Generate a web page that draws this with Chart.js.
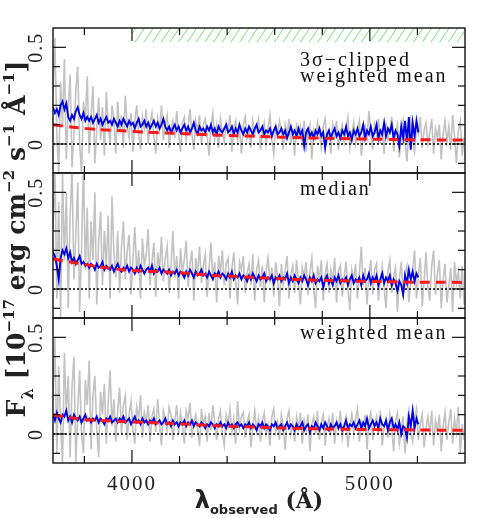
<!DOCTYPE html>
<html lang="en">
<head>
    <meta charset="UTF-8">
    <title>Stacked spectra - clipped mean, median, weighted mean</title>
    <script src="https://cdn.jsdelivr.net/npm/chart.js"></script>
    <style>
        body { margin: 0; background: #fff; }
        #wrap { position: relative; width: 491px; height: 518px; }
        #wrap canvas { position: absolute; left: 0; top: 0; }
    </style>
</head>
<body>
    <div id="wrap">
        <canvas id="panel0" width="491" height="518"></canvas>
        <canvas id="panel1" width="491" height="518"></canvas>
        <canvas id="panel2" width="491" height="518"></canvas>
    </div>

    <script>
        // axis ranges
        const LAMBDA_MIN = 3668, LAMBDA_MAX = 5400;
        const FLUX_MIN = -0.15, FLUX_MAX = 0.6;

        // wavelength grids (start, step in Angstrom)
        const GREY_START = 3668, GREY_STEP = 8;
        const BLUE_START = 3668, BLUE_STEP = 8;
        const MODEL_START = 3668, MODEL_STEP = 96;

        const X_TICKS = [3800, 4000, 4200, 4400, 4600, 4800, 5000, 5200];
        const X_LABELS = [4000, 5000];
        const Y_TICKS = [-0.1, 0, 0.1, 0.2, 0.3, 0.4, 0.5];
        const Y_LABELS = [0, 0.5];

        const HATCH_FROM = 4000, HATCH_LEVEL = 0.525;

        const panelLabels = [['3σ−clipped', 'weighted mean'], ['median'], ['weighted mean']];

        // full-resolution stacks (grey), 3668..5396
        const clippedGrey = [
            0.25, 0.55, 0.05, -0.15, 0.32, 0.1, 0.44, -0.08, 0.18, 0.36,
            -0.12, 0.05, 0.28, 0.4, 0.0, -0.15, 0.22, 0.12, 0.35, -0.05,
            0.15, 0.3, -0.1, 0.08, 0.24, 0.02, 0.19, -0.06, 0.27, 0.1,
            0.0, 0.2, 0.13, -0.05, 0.22, 0.06, 0.15, -0.02, 0.25, 0.09,
            0.03, 0.16, -0.04, 0.12, 0.2, 0.05, -0.03, 0.14, 0.08, 0.18,
            0.0, 0.11, 0.16, 0.04, -0.05, 0.13, 0.07, 0.2, 0.02, 0.1,
            0.15, -0.02, 0.08, 0.12, 0.03, 0.17, 0.06, -0.04, 0.11, 0.14,
            0.02, 0.09, 0.18, 0.05, -0.03, 0.12, 0.07, 0.15, 0.0, 0.1,
            0.13, 0.04, -0.06, 0.09, 0.16, 0.03, 0.1, -0.02, 0.13, 0.06,
            0.01, 0.11, 0.07, 0.15, -0.04, 0.08, 0.12, 0.02, 0.09, -0.05,
            0.1, 0.14, 0.03, 0.07, -0.02, 0.12, 0.05, 0.09, 0.13, -0.03,
            0.06, 0.11, 0.0, 0.08, 0.15, 0.02, -0.05, 0.09, 0.04, 0.12,
            0.07, -0.03, 0.1, 0.05, 0.13, 0.0, 0.08, -0.06, 0.11, 0.04,
            0.09, 0.01, 0.12, -0.04, 0.06, 0.1, -0.08, 0.07, 0.03, 0.11,
            0.05, -0.02, 0.09, 0.13, 0.02, 0.07, -0.05, 0.1, 0.04, 0.12,
            -0.03, 0.06, 0.1, 0.01, 0.08, 0.14, -0.02, 0.05, 0.11, 0.0,
            0.07, 0.12, -0.06, 0.04, 0.09, 0.03, 0.17, 0.06, -0.03, 0.1,
            0.05, 0.13, 0.0, 0.08, -0.05, 0.11, 0.03, 0.07, 0.14, -0.04,
            0.06, 0.1, -0.07, 0.04, 0.12, 0.01, -0.09, 0.08, 0.13, 0.02,
            -0.04, 0.09, 0.05, 0.14, -0.02, 0.07, 0.11, 0.0, 0.06, 0.13,
            -0.05, 0.08, 0.03, 0.1, -0.08, 0.05, 0.12, 0.01, 0.09, -0.03,
            0.15, 0.04, -0.1, 0.07, 0.12, -0.06, 0.03
        ];
        const medianGrey = [
            0.3, 0.65, -0.05, 0.45, -0.15, 0.6, 0.15, 0.5, -0.1, 0.38,
            0.62, 0.05, 0.28, 0.55, -0.12, 0.2, 0.65, 0.1, 0.42, -0.05,
            0.35, 0.15, 0.5, -0.08, 0.25, 0.4, 0.02, 0.3, 0.12, 0.38,
            -0.05, 0.48, 0.18, 0.06, 0.3, -0.02, 0.22, 0.35, 0.05, 0.2,
            0.28, -0.03, 0.15, 0.32, 0.08, 0.2, -0.05, 0.26, 0.12, 0.18,
            0.31, 0.02, 0.14, 0.24, -0.04, 0.19, 0.1, 0.27, 0.04, 0.16,
            0.22, -0.02, 0.12, 0.3, 0.06, 0.17, -0.05, 0.21, 0.09, 0.15,
            0.25, 0.01, 0.13, 0.2, -0.06, 0.16, 0.08, 0.22, 0.03, 0.12,
            0.18, -0.04, 0.1, 0.24, 0.05, 0.14, -0.07, 0.17, 0.08, 0.2,
            0.02, 0.13, 0.16, -0.05, 0.11, 0.19, 0.04, -0.08, 0.14, 0.1,
            0.17, -0.02, 0.08, 0.13, 0.02, 0.18, -0.06, 0.1, 0.15, 0.01,
            0.12, -0.07, 0.09, 0.16, 0.03, 0.11, -0.04, 0.14, 0.06, -0.09,
            0.13, 0.02, 0.1, 0.17, -0.05, 0.08, 0.12, -0.02, 0.15, 0.04,
            -0.08, 0.11, 0.06, 0.14, -0.03, 0.09, 0.16, 0.0, -0.1, 0.12,
            0.05, 0.15, -0.06, 0.08, 0.13, -0.02, 0.1, 0.04, 0.16, -0.07,
            0.09, 0.12, -0.04, 0.06, 0.14, 0.0, -0.11, 0.1, 0.05, 0.13,
            -0.05, 0.08, 0.22, 0.02, 0.11, -0.08, 0.07, 0.15, -0.03, 0.1,
            0.13, -0.06, 0.04, 0.12, 0.01, -0.1, 0.09, 0.15, -0.02, 0.06,
            0.11, -0.12, 0.05, 0.14, -0.04, 0.08, 0.12, -0.07, 0.03, 0.1,
            0.2, -0.05, 0.07, 0.16, -0.09, 0.04, 0.19, 0.01, -0.06, 0.12,
            0.2, -0.03, 0.08, 0.15, -0.1, 0.05, 0.13, -0.07, 0.02, 0.11,
            -0.12, 0.14, 0.03, 0.09, -0.05, 0.12, -0.08
        ];
        const weightedGrey = [
            0.2, 0.5, -0.1, 0.35, 0.05, -0.15, 0.42, 0.1, 0.3, -0.12,
            0.25, 0.4, -0.15, 0.12, 0.33, 0.0, -0.1, 0.28, 0.15, 0.38,
            -0.08, 0.2, 0.3, 0.02, -0.12, 0.22, 0.1, 0.26, -0.05, 0.16,
            0.33, 0.04, 0.18, -0.04, 0.12, 0.24, 0.0, 0.15, 0.2, -0.03,
            0.1, 0.17, 0.02, -0.05, 0.14, 0.08, 0.2, -0.02, 0.11, 0.06,
            0.15, -0.04, 0.09, 0.13, 0.01, 0.18, 0.05, -0.06, 0.12, 0.08,
            0.02, 0.14, 0.1, -0.03, 0.07, 0.15, 0.0, 0.11, 0.05, -0.05,
            0.12, 0.08, 0.16, -0.02, 0.06, 0.1, 0.03, -0.06, 0.13, 0.05,
            0.09, -0.04, 0.11, 0.02, 0.15, 0.06, -0.03, 0.08, 0.12, 0.0,
            -0.06, 0.1, 0.05, 0.13, 0.01, 0.08, -0.05, 0.17, 0.03, 0.09,
            0.11, -0.02, 0.06, 0.1, -0.07, 0.04, 0.12, 0.02, 0.08, -0.04,
            0.07, 0.11, 0.0, 0.05, -0.06, 0.09, 0.13, 0.01, 0.06, -0.03,
            0.1, 0.04, -0.08, 0.08, 0.12, 0.0, 0.06, -0.04, 0.09, 0.03,
            0.11, -0.05, 0.07, 0.02, 0.1, -0.09, 0.05, 0.09, 0.0, 0.12,
            -0.03, 0.06, 0.1, -0.06, 0.04, 0.08, 0.01, 0.11, -0.05, 0.07,
            0.03, 0.12, -0.02, 0.05, 0.09, -0.07, 0.04, 0.1, 0.0, 0.08,
            0.13, -0.04, 0.06, 0.02, 0.1, -0.08, 0.07, 0.11, -0.03, 0.05,
            0.09, 0.0, 0.12, -0.06, 0.04, 0.08, -0.02, 0.1, 0.03, -0.09,
            0.07, 0.11, -0.05, 0.02, 0.09, -0.1, 0.06, 0.12, 0.0, -0.04,
            0.08, 0.13, -0.03, 0.05, 0.1, -0.07, 0.03, 0.09, 0.0, 0.12,
            -0.06, 0.07, 0.02, 0.1, -0.09, 0.04, 0.11, -0.03, 0.06, 0.13,
            -0.05, 0.08, 0.01, 0.14, -0.1, 0.05, -0.03
        ];

        // binned stacks (blue), 3668..5204
        const clippedBlue = [
            0.19, 0.16, 0.18, 0.15, 0.2, 0.22, 0.18, 0.21, 0.14, 0.12,
            0.15, 0.13, 0.17, 0.19, 0.15, 0.13, 0.16, 0.12, 0.14, 0.12,
            0.14, 0.11, 0.13, 0.15, 0.11, 0.13, 0.1, 0.12, 0.14, 0.11,
            0.12, 0.1, 0.13, 0.11, 0.09, 0.12, 0.1, 0.13, 0.11, 0.09,
            0.12, 0.1, 0.11, 0.08, 0.11, 0.13, 0.09, 0.1, 0.12, 0.09,
            0.11, 0.08, 0.1, 0.12, 0.09, 0.11, 0.08, 0.1, 0.13, 0.09,
            0.07, 0.09, 0.06, 0.08, 0.1, 0.07, 0.09, 0.06, 0.08, 0.1,
            0.07, 0.09, 0.06, 0.08, 0.11, 0.07, 0.05, 0.09, 0.07, 0.08,
            0.06, 0.09, 0.07, 0.1, 0.06, 0.08, 0.05, 0.09, 0.07, 0.06,
            0.08, 0.1, 0.06, 0.07, 0.09, 0.05, 0.08, 0.06, 0.1, 0.07,
            0.05, 0.08, 0.06, 0.09, 0.07, 0.05, 0.08, 0.1, 0.06, 0.07,
            0.09, 0.05, 0.07, 0.06, 0.08, 0.04, 0.07, 0.09, 0.05, 0.06,
            0.08, 0.05, 0.07, 0.03, 0.06, 0.09, 0.05, 0.07, 0.04, 0.08,
            0.05, 0.07, -0.01, 0.06, 0.08, 0.04, 0.06, 0.03, 0.07, 0.05,
            0.08, 0.04, 0.06, -0.02, 0.05, 0.07, 0.03, 0.06, 0.08, 0.04,
            0.06, 0.03, 0.07, 0.05, 0.09, 0.04, 0.06, 0.02, 0.07, 0.05,
            0.08, 0.04, 0.06, 0.1, 0.03, 0.07, 0.05, 0.09, 0.04, 0.06,
            0.1, 0.03, 0.07, 0.05, 0.11, 0.04, 0.08, 0.06, 0.1, 0.03,
            0.07, 0.05, -0.01, 0.09, 0.03, 0.12, 0.01, 0.14, -0.03, 0.11,
            0.04, 0.12, 0.06
        ];
        const medianBlue = [
            0.19, 0.17, 0.12, 0.05, 0.16, 0.2, 0.18, 0.21, 0.16, 0.19,
            0.14, 0.16, 0.13, 0.15, 0.17, 0.13, 0.14, 0.12, 0.13, 0.11,
            0.13, 0.12, 0.1, 0.13, 0.11, 0.12, 0.14, 0.1, 0.12, 0.11,
            0.1, 0.12, 0.09, 0.11, 0.13, 0.1, 0.09, 0.11, 0.1, 0.12,
            0.09, 0.11, 0.1, 0.08, 0.11, 0.09, 0.12, 0.1, 0.08, 0.1,
            0.11, 0.09, 0.12, 0.08, 0.1, 0.09, 0.11, 0.08, 0.1, 0.09,
            0.08, 0.1, 0.07, 0.09, 0.08, 0.1, 0.07, 0.09, 0.08, 0.06,
            0.09, 0.07, 0.1, 0.08, 0.06, 0.09, 0.07, 0.08, 0.1, 0.07,
            0.08, 0.06, 0.09, 0.07, 0.05, 0.08, 0.07, 0.09, 0.06, 0.08,
            0.07, 0.05, 0.08, 0.06, 0.09, 0.05, 0.07, 0.06, 0.08, 0.05,
            0.07, 0.06, 0.04, 0.07, 0.05, 0.08, 0.06, 0.04, 0.07, 0.05,
            0.06, 0.08, 0.04, 0.06, 0.05, 0.07, 0.03, 0.06, 0.05, 0.07,
            0.04, 0.06, 0.05, 0.08, 0.03, 0.06, 0.04, 0.07, 0.05, 0.03,
            0.06, 0.04, 0.07, 0.05, 0.02, 0.06, 0.04, 0.07, 0.03, 0.05,
            0.04, 0.06, 0.01, 0.05, 0.07, 0.03, 0.05, 0.02, 0.06, 0.04,
            0.07, 0.03, 0.05, 0.04, 0.06, 0.02, 0.05, 0.07, 0.03, 0.05,
            0.04, 0.06, 0.02, 0.07, 0.04, 0.05, 0.08, 0.03, 0.06, 0.04,
            0.07, 0.02, 0.05, 0.08, 0.03, 0.06, 0.04, 0.07, 0.02, 0.05,
            0.03, -0.01, 0.04, 0.02, -0.03, 0.07, 0.03, 0.1, 0.05, 0.09,
            0.04, 0.08, 0.06
        ];
        const weightedBlue = [
            0.1, 0.07, 0.11, 0.08, 0.06, 0.1, 0.09, 0.12, 0.07, 0.09,
            0.06, 0.1, 0.08, 0.07, 0.09, 0.06, 0.08, 0.1, 0.07, 0.08,
            0.06, 0.08, 0.07, 0.09, 0.06, 0.08, 0.07, 0.05, 0.08, 0.07,
            0.09, 0.06, 0.07, 0.08, 0.06, 0.08, 0.07, 0.09, 0.06, 0.07,
            0.08, 0.05, 0.07, 0.09, 0.06, 0.07, 0.05, 0.08, 0.06, 0.07,
            0.05, 0.07, 0.06, 0.08, 0.05, 0.06, 0.07, 0.05, 0.06, 0.08,
            0.05, 0.06, 0.04, 0.07, 0.05, 0.06, 0.04, 0.06, 0.05, 0.07,
            0.04, 0.06, 0.05, 0.07, 0.04, 0.06, 0.05, 0.04, 0.06, 0.05,
            0.03, 0.05, 0.04, 0.06, 0.05, 0.03, 0.05, 0.04, 0.06, 0.04,
            0.05, 0.03, 0.06, 0.04, 0.05, 0.03, 0.05, 0.06, 0.04, 0.05,
            0.03, 0.05, 0.04, 0.06, 0.03, 0.05, 0.04, 0.02, 0.05, 0.04,
            0.06, 0.03, 0.05, 0.04, 0.02, 0.05, 0.04, 0.06, 0.03, 0.04,
            0.05, 0.02, 0.04, 0.06, 0.03, 0.05, 0.04, 0.02, 0.05, 0.03,
            0.04, 0.06, 0.02, 0.04, 0.05, 0.01, 0.04, 0.03, 0.06, 0.04,
            0.02, 0.05, 0.03, 0.06, 0.04, 0.02, 0.05, 0.03, 0.04, 0.06,
            0.03, 0.05, 0.02, 0.04, 0.07, 0.03, 0.05, 0.04, 0.06, 0.03,
            0.05, 0.07, 0.03, 0.06, 0.04, 0.08, 0.03, 0.05, 0.07, 0.04,
            0.06, 0.03, 0.08, 0.05, 0.04, 0.07, 0.02, 0.06, 0.08, 0.03,
            0.05, 0.02, 0.06, 0.0, 0.04, 0.03, -0.02, 0.09, 0.04, 0.12,
            0.03, 0.08, 0.05
        ];

        // model continuum (red dashed), 3668..5396
        const clippedModel = [0.10, 0.085, 0.075, 0.068, 0.062, 0.057, 0.052, 0.047, 0.043, 0.039,
            0.035, 0.032, 0.03, 0.027, 0.025, 0.023, 0.022, 0.021, 0.02];
        const medianModel = [0.155, 0.135, 0.115, 0.1, 0.093, 0.088, 0.08, 0.07, 0.065, 0.058,
            0.053, 0.048, 0.044, 0.041, 0.039, 0.037, 0.035, 0.035, 0.034];
        const weightedModel = [0.1, 0.08, 0.07, 0.065, 0.06, 0.055, 0.05, 0.044, 0.039, 0.035,
            0.031, 0.028, 0.026, 0.024, 0.023, 0.022, 0.021, 0.02, 0.02];

        const greySets = [clippedGrey, medianGrey, weightedGrey];
        const blueSets = [clippedBlue, medianBlue, weightedBlue];
        const modelSets = [clippedModel, medianModel, weightedModel];

        const toPoints = (values, start, step) => values.map((v, i) => ({ x: start + i * step, y: v }));

        // panel geometry
        const PANEL_TOPS = [28, 173, 318];
        const PANEL_H = 145;
        const LABEL_OFFSETS = [38, 22, 21];

        const serif = '"Liberation Serif", "DejaVu Serif", serif';

        function line(ctx, x1, y1, x2, y2) {
            ctx.beginPath();
            ctx.moveTo(x1, y1);
            ctx.lineTo(x2, y2);
            ctx.stroke();
        }

        const panelDecor = {
            id: 'panelDecor',
            afterDraw(chart, args, opts) {
                const { ctx, chartArea: a } = chart;
                const xs = chart.scales.x, ys = chart.scales.y;
                ctx.save();

                // hatched band in the top panel
                if (opts.hatch) {
                    const hx = xs.getPixelForValue(HATCH_FROM);
                    const hy = ys.getPixelForValue(HATCH_LEVEL);
                    const h = hy - a.top;
                    ctx.save();
                    ctx.beginPath();
                    ctx.rect(hx, a.top, a.right - hx, h);
                    ctx.clip();
                    ctx.strokeStyle = 'rgb(120,225,120)';
                    ctx.lineWidth = 1;
                    for (let sx = hx - h; sx < a.right; sx += 8.7) {
                        line(ctx, sx, hy, sx + h * 0.67, a.top);
                    }
                    ctx.restore();
                }

                // frame + ticks
                ctx.strokeStyle = '#111';
                ctx.lineWidth = 1.4;
                ctx.strokeRect(a.left, a.top, a.right - a.left, a.bottom - a.top);
                ctx.lineWidth = 1.2;
                X_TICKS.forEach(v => {
                    const px = xs.getPixelForValue(v);
                    const len = X_LABELS.includes(v) ? 13 : 7;
                    line(ctx, px, a.bottom, px, a.bottom - len);
                    line(ctx, px, a.top, px, a.top + len);
                });
                Y_TICKS.forEach(v => {
                    const py = ys.getPixelForValue(v);
                    const len = Y_LABELS.includes(v) ? 13 : 7;
                    line(ctx, a.left, py, a.left + len, py);
                    line(ctx, a.right, py, a.right - len, py);
                });

                // y tick labels, rotated
                ctx.fillStyle = '#222';
                ctx.font = '20px ' + serif;
                ctx.letterSpacing = '2px';
                ctx.textAlign = 'center';
                ctx.textBaseline = 'alphabetic';
                Y_LABELS.forEach(v => {
                    ctx.save();
                    ctx.translate(42, ys.getPixelForValue(v));
                    ctx.rotate(-Math.PI / 2);
                    ctx.fillText(String(v), 0, 0);
                    ctx.restore();
                });

                // panel label
                ctx.textAlign = 'left';
                ctx.fillStyle = '#111';
                opts.label.forEach((txt, i) => {
                    ctx.fillText(txt, 300, a.top + opts.labelOffset + i * 16);
                });

                if (opts.axes) drawAxes(chart);
                ctx.restore();
            }
        };

        function drawAxes(chart) {
            const { ctx, chartArea: a } = chart;
            const xs = chart.scales.x;

            // x tick labels
            ctx.font = '21px ' + serif;
            ctx.letterSpacing = '2px';
            ctx.textAlign = 'center';
            ctx.fillStyle = '#222';
            X_LABELS.forEach(v => ctx.fillText(String(v), xs.getPixelForValue(v), 490));

            // x title
            ctx.textAlign = 'left';
            ctx.letterSpacing = '0px';
            const parts = [
                { t: 'λ', f: 'bold 24px "DejaVu Sans", sans-serif', dy: 0 },
                { t: 'observed', f: 'bold 13px "DejaVu Sans", sans-serif', dy: 6 },
                { t: ' (Å)', f: 'bold 22px "DejaVu Serif", serif', dy: 0 }
            ];
            let total = 0;
            parts.forEach(p => { ctx.font = p.f; p.w = ctx.measureText(p.t).width; total += p.w; });
            let cx = (a.left + a.right) / 2 - total / 2;
            parts.forEach(p => { ctx.font = p.f; ctx.fillText(p.t, cx, 508 + p.dy); cx += p.w; });

            // y title, rotated
            const segs = [
                { t: 'F', k: 1, dy: 0 },
                { t: 'λ', k: 0.65, dy: 0.3 },
                { t: ' [10', k: 1, dy: 0 },
                { t: '−17', k: 0.6, dy: -0.45 },
                { t: ' erg cm', k: 1, dy: 0 },
                { t: '−2', k: 0.6, dy: -0.45 },
                { t: ' s', k: 1, dy: 0 },
                { t: '−1', k: 0.6, dy: -0.45 },
                { t: ' Å', k: 1, dy: 0 },
                { t: '−1', k: 0.6, dy: -0.45 },
                { t: ']', k: 1, dy: 0 }
            ];
            const fam = '"DejaVu Serif", serif';
            const measure = s => {
                let w = 0;
                segs.forEach(g => { ctx.font = 'bold ' + (s * g.k) + 'px ' + fam; w += ctx.measureText(g.t).width; });
                return w;
            };
            const size = 20 * 357 / measure(20);
            const tw = measure(size);
            ctx.save();
            ctx.translate(25, 239);
            ctx.rotate(-Math.PI / 2);
            let tx = -tw / 2;
            segs.forEach(g => {
                ctx.font = 'bold ' + (size * g.k) + 'px ' + fam;
                ctx.fillText(g.t, tx, g.dy * size);
                tx += ctx.measureText(g.t).width;
            });
            ctx.restore();
        }

        [0, 1, 2].forEach(p => {
            const top = PANEL_TOPS[p];
            new Chart(document.getElementById('panel' + p), {
                type: 'line',
                data: {
                    datasets: [
                        {
                            data: toPoints(modelSets[p], MODEL_START, MODEL_STEP),
                            borderColor: '#ff1a1a', borderWidth: 3, borderDash: [10, 6],
                            tension: 0.3, order: 1, clip: 0
                        },
                        {
                            data: toPoints(blueSets[p], BLUE_START, BLUE_STEP),
                            borderColor: '#0000e6', borderWidth: 1.9, order: 2, clip: 0
                        },
                        {
                            data: [{ x: LAMBDA_MIN, y: 0 }, { x: LAMBDA_MAX, y: 0 }],
                            borderColor: '#000', borderWidth: 1.5, borderDash: [2, 2], order: 3, clip: 0
                        },
                        {
                            data: toPoints(greySets[p], GREY_START, GREY_STEP),
                            borderColor: '#c2c2c2', borderWidth: 1.6, order: 4, clip: 0
                        }
                    ]
                },
                options: {
                    responsive: false,
                    animation: false,
                    layout: { padding: { left: 53, right: 26, top: top, bottom: 518 - top - PANEL_H } },
                    elements: { point: { radius: 0 } },
                    scales: {
                        x: { type: 'linear', min: LAMBDA_MIN, max: LAMBDA_MAX, display: false },
                        y: { type: 'linear', min: FLUX_MIN, max: FLUX_MAX, display: false }
                    },
                    plugins: {
                        legend: { display: false },
                        tooltip: { enabled: false },
                        panelDecor: {
                            label: panelLabels[p],
                            labelOffset: LABEL_OFFSETS[p],
                            hatch: p === 0,
                            axes: p === 2
                        }
                    }
                },
                plugins: [panelDecor]
            });
        });
    </script>
</body>
</html>
